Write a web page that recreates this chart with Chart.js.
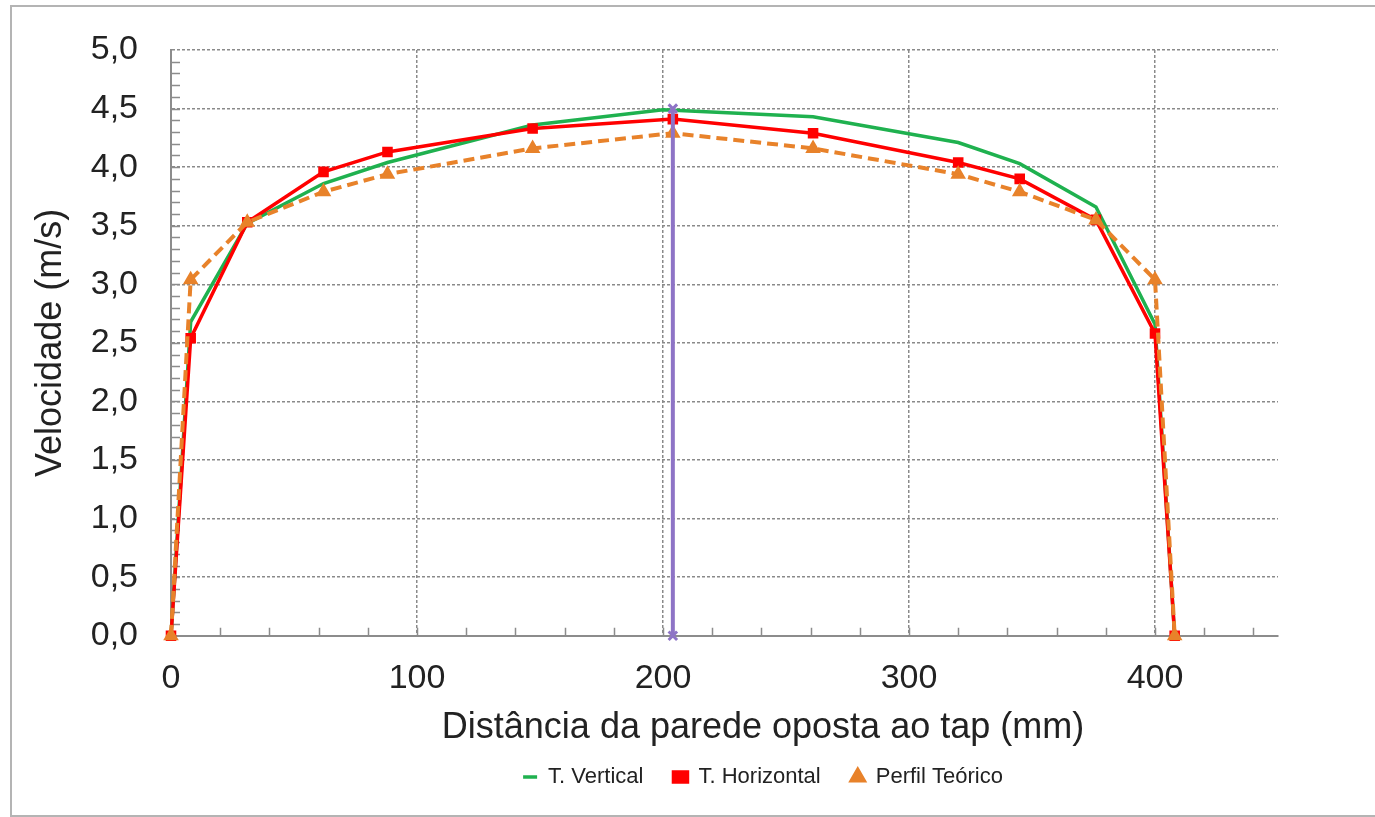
<!DOCTYPE html>
<html>
<head>
<meta charset="utf-8">
<script src="https://cdn.jsdelivr.net/npm/chart.js@4.4.1/dist/chart.umd.min.js"></script>
<style>
  html, body { margin: 0; padding: 0; background: #fff; overflow: hidden; }
  #frame { position: absolute; left: 10px; top: 5px; width: 1420px; height: 808px;
           border: 2px solid #b4b4b4; overflow: hidden; }
  canvas { display: block; }
</style>
</head>
<body>
<div id="frame"><canvas id="perfil" width="1489" height="806"></canvas></div>
<script>
// distância (mm) e velocidade (m/s)
const xVertical = [0, 8, 31, 62, 88, 147, 200, 261, 320, 345, 376, 400, 408];
const vVertical = [0, 2.68, 3.52, 3.86, 4.04, 4.36, 4.49, 4.43, 4.21, 4.03, 3.66, 2.66, 0];

const xHorizontal = [0, 8, 31, 62, 88, 147, 204, 261, 320, 345, 376, 400, 408];
const vHorizontal = [0, 2.54, 3.53, 3.96, 4.13, 4.33, 4.41, 4.29, 4.04, 3.90, 3.55, 2.58, 0];

const xTeorico = [0, 8, 31, 62, 88, 147, 204, 261, 320, 345, 376, 400, 408];
const vTeorico = [0, 3.04, 3.53, 3.79, 3.94, 4.16, 4.29, 4.16, 3.94, 3.79, 3.55, 3.04, 0];

const xCentro = [204, 204];
const vCentro = [0, 4.5];

const toPoints = (xs, ys) => xs.map((x, i) => ({ x: x, y: ys[i] }));

const FONT = "'Liberation Sans', Arial, sans-serif";
const AXIS = '#8c8c8c';

// pequenos traços secundários dos eixos
const minorTicks = {
    id: 'minorTicks',
    beforeDatasetsDraw(chart) {
        const { ctx, scales: { x, y } } = chart;
        ctx.save();
        ctx.strokeStyle = AXIS;
        ctx.lineWidth = 1.5;
        ctx.beginPath();
        for (let i = 1; i < 50; i++) {
            const py = Math.round(y.getPixelForValue(i / 10)) + 0.5;
            ctx.moveTo(x.left, py);
            ctx.lineTo(x.left + 9, py);
        }
        for (let v = 20; v <= 440; v += 20) {
            const px = Math.round(x.getPixelForValue(v)) + 0.5;
            ctx.moveTo(px, y.bottom);
            ctx.lineTo(px, y.bottom - 8);
        }
        ctx.stroke();
        ctx.restore();
    }
};

const ctx = document.getElementById('perfil').getContext('2d');

new Chart(ctx, {
    type: 'line',
    data: {
        datasets: [{
            label: 'T. Vertical',
            data: toPoints(xVertical, vVertical),
            borderColor: '#1fb14f',
            backgroundColor: '#1fb14f',
            borderWidth: 3.5,
            pointRadius: 0,
            pointStyle: 'line',
            clip: 10,
            order: 4
        }, {
            label: 'T. Horizontal',
            data: toPoints(xHorizontal, vHorizontal),
            borderColor: '#ff0000',
            backgroundColor: '#ff0000',
            borderWidth: 3.5,
            pointStyle: 'rect',
            pointRadius: 5,
            clip: 10,
            order: 3
        }, {
            label: 'Perfil Teórico',
            data: toPoints(xTeorico, vTeorico),
            borderColor: '#e8822a',
            backgroundColor: '#e8822a',
            borderWidth: 4,
            borderDash: [11, 6],
            pointStyle: 'triangle',
            pointRadius: 5,
            clip: 10,
            order: 2
        }, {
            label: 'centro',
            data: toPoints(xCentro, vCentro),
            borderColor: '#8e74c6',
            backgroundColor: '#8e74c6',
            borderWidth: 4,
            pointStyle: 'crossRot',
            pointRadius: 6,
            pointBorderWidth: 3,
            clip: 10,
            order: 1
        }]
    },
    options: {
        responsive: false,
        animation: false,
        layout: { padding: { left: 13, top: 43, right: 0, bottom: 15 } },
        plugins: {
            tooltip: { enabled: false },
            title: {
                display: true,
                position: 'bottom',
                text: 'Distância da parede oposta ao tap (mm)',
                color: '#222',
                font: { family: FONT, size: 36, weight: 'normal' },
                padding: { top: 9, bottom: -14 },
                weight: 500
            },
            legend: {
                position: 'bottom',
                labels: {
                    usePointStyle: true,
                    pointStyleWidth: 14,
                    boxHeight: 10,
                    padding: 30,
                    color: '#222',
                    font: { family: FONT, size: 22 },
                    filter: item => item.datasetIndex !== 3,
                    sort: (a, b) => a.datasetIndex - b.datasetIndex
                }
            }
        },
        scales: {
            x: {
                type: 'linear',
                min: 0,
                max: 450,
                afterFit: s => { s.height = 62; },
                ticks: {
                    stepSize: 100,
                    padding: 22,
                    color: '#222',
                    font: { family: FONT, size: 34 },
                    callback: v => (v === 450 ? '' : v)
                },
                grid: {
                    drawTicks: false,
                    lineWidth: 1.5,
                    color: c => (c.tick && (c.tick.value === 0 || c.tick.value === 450) ? 'rgba(0,0,0,0)' : '#8a8a8a')
                },
                border: { color: AXIS, width: 2, dash: [3, 2] }
            },
            y: {
                min: 0,
                max: 5,
                afterFit: s => { s.width = 146; s.paddingTop = 20; s.paddingBottom = 20; },
                ticks: {
                    stepSize: 0.5,
                    padding: 33,
                    color: '#222',
                    font: { family: FONT, size: 34 },
                    callback: v => v.toFixed(1).replace('.', ',')
                },
                grid: {
                    drawTicks: false,
                    lineWidth: 1.5,
                    color: c => (c.tick && c.tick.value === 0 ? 'rgba(0,0,0,0)' : '#8a8a8a')
                },
                border: { color: AXIS, width: 2, dash: [3, 2] },
                title: {
                    display: true,
                    text: 'Velocidade (m/s)',
                    color: '#222',
                    font: { family: FONT, size: 36 },
                    padding: { top: 4, bottom: 19 }
                }
            },
            // espaço vazio à direita do gráfico
            yR: {
                position: 'right',
                afterFit: s => { s.width = 223; s.paddingTop = 0; s.paddingBottom = 0; },
                ticks: { display: false },
                grid: { display: false, drawOnChartArea: false },
                border: { display: false }
            }
        }
    },
    plugins: [minorTicks]
});
</script>
</body>
</html>
